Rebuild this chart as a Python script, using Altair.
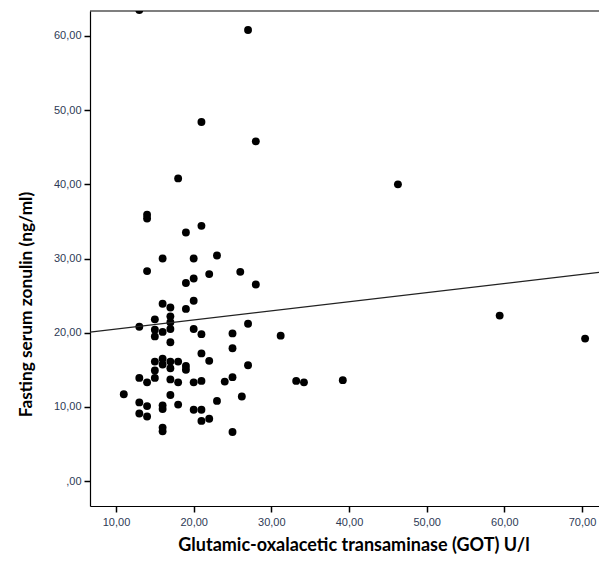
import altair as alt
import pandas as pd

got = [13, 27, 21, 28, 18, 46.3, 14, 14, 21, 19, 16, 20, 23, 14, 26, 22, 20, 19, 28,
       20, 16, 17, 19, 15, 17, 17, 17, 13, 27, 15, 15, 16, 20, 21, 25, 31.2, 59.4, 70.4,
       17, 25, 21, 22, 15, 16, 16, 17, 17, 18, 19, 19, 27, 15, 15, 13, 14, 17, 18,
       20, 21, 24, 25, 33.2, 34.2, 39.2, 11, 26.2, 13, 14, 16, 16, 17, 18, 23, 13, 14, 20,
       21, 21, 22, 16, 16, 25]
zonulin = [63.5, 60.8, 48.4, 45.8, 40.8, 40.0, 35.9, 35.4, 34.4, 33.5, 30.0, 30.0, 30.4,
           28.3, 28.2, 27.9, 27.3, 26.7, 26.5, 24.3, 23.9, 23.4, 23.2, 21.8, 22.2, 21.4,
           20.5, 20.8, 21.2, 20.4, 19.5, 20.1, 20.5, 19.8, 19.9, 19.6, 22.3, 19.2, 18.7,
           17.9, 17.2, 16.2, 16.1, 16.5, 15.7, 16.1, 15.2, 16.1, 15.5, 15.0, 15.6, 14.9,
           13.9, 13.9, 13.3, 13.7, 13.3, 13.3, 13.5, 13.4, 14.0, 13.5, 13.3, 13.6, 11.7,
           11.4, 10.6, 10.1, 10.2, 9.7, 11.6, 10.3, 10.8, 9.1, 8.7, 9.6, 9.6, 8.1, 8.4,
           7.2, 6.7, 6.6]

# linear fit line
fit_intercept = 19.25
fit_slope = 0.123

x_ticks = [10, 20, 30, 40, 50, 60, 70]
y_ticks = [0, 10, 20, 30, 40, 50, 60]
x_domain = [6.65, 72.19]
y_domain = [-3.37, 63.37]

df = pd.DataFrame({"got": got, "zonulin": zonulin})
fit_df = pd.DataFrame({"got": x_domain})
frame_df = pd.DataFrame({"k": [0]})

label_expr = "datum.value == 0 ? ',00' : replace(format(datum.value, '.2f'), '.', ',')"
label_color = "#2e3a55"

x_enc = alt.X(
    "got:Q",
    scale=alt.Scale(domain=x_domain, nice=False, zero=False),
    axis=alt.Axis(
        values=x_ticks, labelExpr=label_expr, grid=False,
        title="Glutamic-oxalacetic transaminase (GOT) U/l",
        titleFont="Lato", titleFontSize=18, titleFontWeight="bold", titleColor="#000000",
        titlePadding=9, titleX=263.5,
        labelFont="Liberation Sans", labelFontSize=11, labelColor=label_color, labelPadding=4,
        domainColor="#000000", domainWidth=1.2, tickColor="#000000", tickSize=6, tickWidth=1.5,
    ),
)
y_enc = alt.Y(
    "zonulin:Q",
    scale=alt.Scale(domain=y_domain, nice=False, zero=False),
    axis=alt.Axis(
        values=y_ticks, labelExpr=label_expr, grid=False,
        title="Fasting serum zonulin (ng/ml)",
        titleFont="Lato", titleFontSize=17.3, titleFontWeight="bold", titleColor="#000000",
        titlePadding=18, titleY=293,
        labelFont="Liberation Sans", labelFontSize=11, labelColor=label_color, labelPadding=3,
        domainColor="#000000", domainWidth=1.2, tickColor="#000000", tickSize=6, tickWidth=1.5,
    ),
)

points = alt.Chart(df).mark_circle(size=62, color="#000000", opacity=1, clip=True).encode(
    x=x_enc, y=y_enc
)

fit = alt.Chart(fit_df).transform_calculate(
    zonulin=f"{fit_intercept} + {fit_slope} * datum.got"
).mark_line(color="#222222", strokeWidth=1.2, clip=True).encode(
    x="got:Q", y="zonulin:Q"
)

top_border = alt.Chart(frame_df).mark_rule(color="#000000", strokeWidth=1.2).encode(
    y=alt.value(0)
)

chart = (points + fit + top_border).properties(
    width=509, height=495,
    padding={"left": 82, "top": 3, "right": 0, "bottom": 51},
    autosize=alt.AutoSizeParams(type="none"),
).configure_view(strokeWidth=0)

chart.save("out.html", embed_options={"renderer": "svg", "actions": False})
